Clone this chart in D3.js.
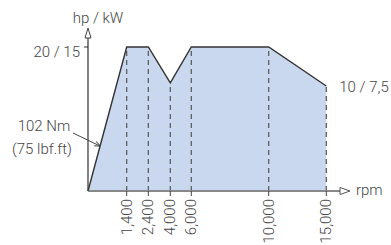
<!DOCTYPE html>
<html>
<head>
<meta charset="utf-8">
<script src="https://cdn.jsdelivr.net/npm/d3@7"></script>
<style>
  body { margin: 0; background: #fff; }
  text { font-family: "Roboto", sans-serif; font-weight: 300; fill: #444; font-size: 15px; }
</style>
</head>
<body>
<div id="chart"></div>
<script>
var width = 391;
var height = 245;

// data (schematic power curve)
var rpm = [0, 1400, 2400, 4000, 6000, 10000, 15000];
var hp = [0, 20, 20, 10.8, 20, 20, 10];
var tickRpm = [1400, 2400, 4000, 6000, 10000, 15000];
var tickLabels = ["1,400", "2,400", "4,000", "6,000", "10,000", "15,000"];
var yLabels = ["20 / 15", "10 / 7,5"];

var x0 = 88, x1 = 326.3;
var base = 191;

// axis is not to scale, so a piecewise scale
var fr = [0, 0.1624, 0.2531, 0.3454, 0.4335, 0.7583, 1];
var xScale = d3.scaleLinear()
    .domain(rpm)
    .range(fr.map(function(f) { return x0 + f * (x1 - x0); }));
var yScale = d3.scaleLinear().domain([0, 10, 20]).range([base, 86, 47]);

var pts = rpm.map(function(r, i) { return {r: r, h: hp[i]}; });

var svg = d3.select("#chart").append("svg")
    .attr("width", width)
    .attr("height", height);

var area = d3.area()
    .x(function(d) { return xScale(d.r); })
    .y0(base)
    .y1(function(d) { return yScale(d.h); });

var line = d3.line()
    .x(function(d) { return xScale(d.r); })
    .y(function(d) { return yScale(d.h); });

svg.append("path")
    .datum(pts)
    .attr("d", area)
    .attr("fill", "#c9d8ee");

// dashed verticals
svg.selectAll(".drop")
    .data(pts.slice(1))
    .enter()
    .append("line")
    .attr("x1", function(d) { return xScale(d.r); })
    .attr("x2", function(d) { return xScale(d.r); })
    .attr("y1", base)
    .attr("y2", function(d) { return yScale(d.h); })
    .attr("stroke", "#555")
    .attr("stroke-width", 1.2)
    .attr("stroke-dasharray", "5,4");

svg.append("path")
    .datum(pts)
    .attr("d", line)
    .attr("fill", "none")
    .attr("stroke", "#333")
    .attr("stroke-width", 1.4);

// x axis
svg.append("line")
    .attr("x1", x0).attr("x2", 340)
    .attr("y1", base).attr("y2", base)
    .attr("stroke", "#888")
    .attr("stroke-width", 2);
svg.append("path")
    .attr("d", "M340," + (base - 3.5) + "L350," + base + "L340," + (base + 3.5) + "Z")
    .attr("fill", "#fff")
    .attr("stroke", "#555")
    .attr("stroke-width", 1);
svg.append("text")
    .attr("x", 356).attr("y", base + 4)
    .text("rpm");

svg.selectAll(".tick")
    .data(tickRpm)
    .enter()
    .append("line")
    .attr("x1", function(d) { return xScale(d); })
    .attr("x2", function(d) { return xScale(d); })
    .attr("y1", base)
    .attr("y2", base + 5)
    .attr("stroke", "#444");

svg.selectAll(".tlab")
    .data(tickRpm)
    .enter()
    .append("text")
    .attr("transform", function(d) { return "translate(" + (xScale(d) + 5) + "," + (base + 8) + ") rotate(-90)"; })
    .style("text-anchor", "end")
    .text(function(d, i) { return tickLabels[i]; });

// y axis
svg.append("line")
    .attr("x1", x0).attr("x2", x0)
    .attr("y1", base).attr("y2", 38)
    .attr("stroke", "#333")
    .attr("stroke-width", 1.2);
svg.append("path")
    .attr("d", "M" + (x0 - 3) + ",38L" + x0 + ",28L" + (x0 + 3) + ",38Z")
    .attr("fill", "#fff")
    .attr("stroke", "#444")
    .attr("stroke-width", 1);
svg.append("line")
    .attr("x1", x0 - 4).attr("x2", x0)
    .attr("y1", yScale(20)).attr("y2", yScale(20))
    .attr("stroke", "#333");

svg.append("text")
    .attr("x", 98).attr("y", 23)
    .style("text-anchor", "middle")
    .text("hp / kW");
svg.append("text")
    .attr("x", 80).attr("y", yScale(20) + 10)
    .style("text-anchor", "end")
    .text(yLabels[0]);
svg.append("text")
    .attr("x", xScale(15000) + 13).attr("y", yScale(10) + 6)
    .text(yLabels[1]);

// torque annotation
svg.append("text")
    .attr("x", 44).attr("y", 131)
    .style("text-anchor", "middle")
    .text("102 Nm");
svg.append("text")
    .attr("x", 42).attr("y", 154)
    .style("text-anchor", "middle")
    .text("(75 lbf.ft)");

svg.append("defs").append("marker")
    .attr("id", "ah")
    .attr("viewBox", "0 0 10 10")
    .attr("refX", 9).attr("refY", 5)
    .attr("markerWidth", 6).attr("markerHeight", 6)
    .attr("orient", "auto")
    .append("path")
    .attr("d", "M0,1L10,5L0,9")
    .attr("fill", "none")
    .attr("stroke", "#444")
    .attr("stroke-width", 1.5);
svg.append("line")
    .attr("x1", 73).attr("y1", 133)
    .attr("x2", 100).attr("y2", 146)
    .attr("stroke", "#444")
    .attr("stroke-width", 1)
    .attr("marker-end", "url(#ah)");
</script>
</body>
</html>
